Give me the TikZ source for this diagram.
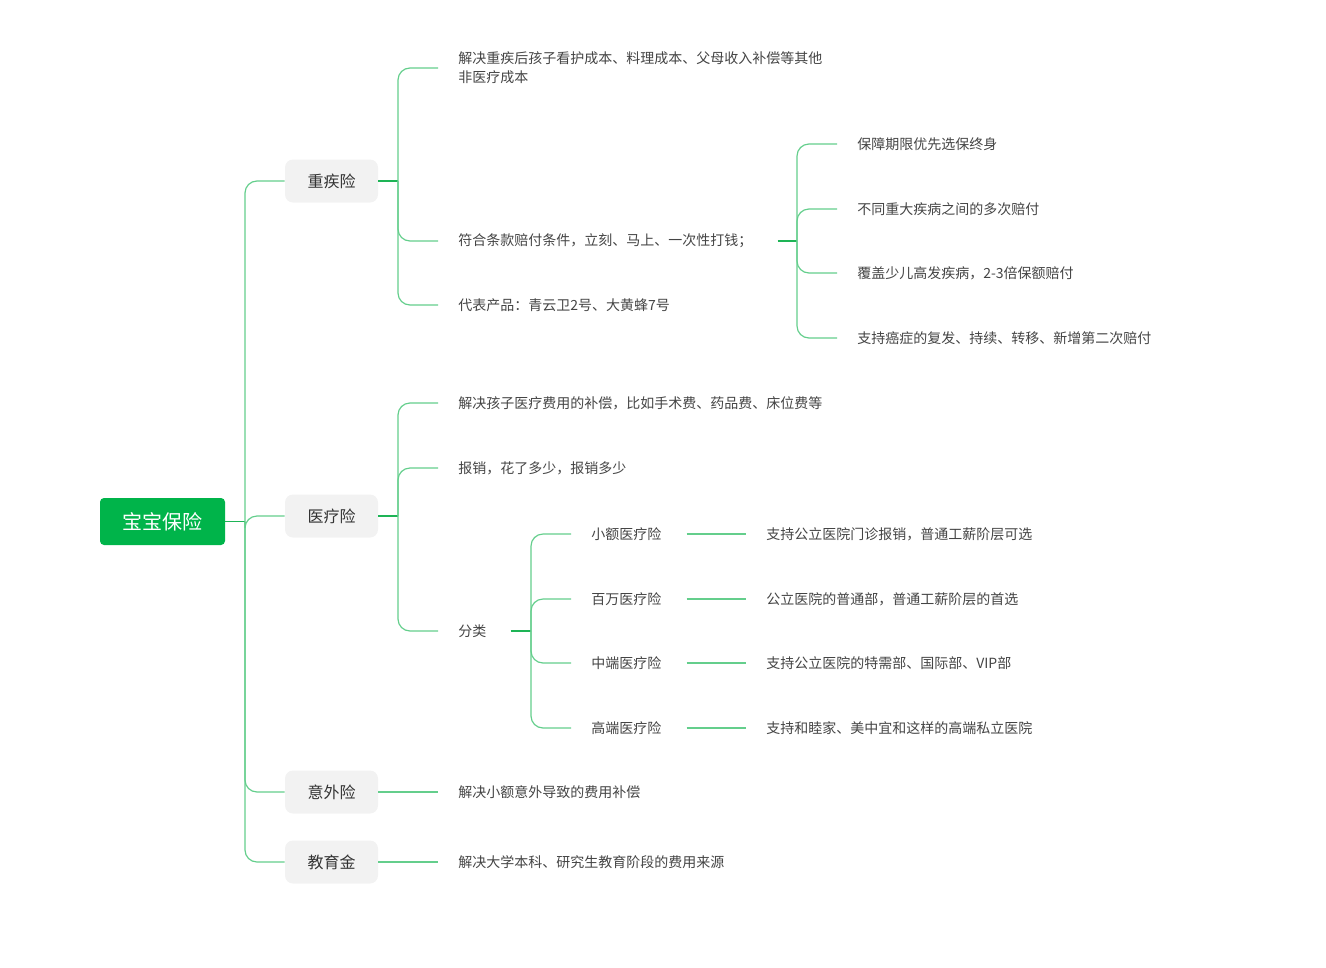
\documentclass[tikz,border=0pt]{standalone}
\usepackage{fontspec}
\setmainfont{Noto Sans CJK SC}
\definecolor{rootgreen}{RGB}{0,180,74}
\definecolor{boxgray}{RGB}{242,242,242}
\definecolor{darktext}{RGB}{51,51,51}
\definecolor{leaftext}{RGB}{68,68,68}
\definecolor{stubgreen}{RGB}{30,180,86}
\definecolor{branchgreen}{RGB}{100,206,140}
\tikzset{
  rootbox/.style={fill=rootgreen, text=white, rounded corners=3pt, minimum width=93.75pt, minimum height=35.25pt, font=\fontsize{15pt}{18pt}\selectfont, inner sep=0pt},
  topicbox/.style={fill=boxgray, text=darktext, rounded corners=6pt, minimum width=69.75pt, minimum height=32.25pt, font=\fontsize{12pt}{14pt}\selectfont, inner sep=0pt},
  leaf/.style={anchor=west, inner sep=0pt, text=leaftext, font=\fontsize{10.5pt}{14.25pt}\selectfont, align=left},
  stub/.style={draw=stubgreen, line width=0.9pt},
  branch/.style={draw=branchgreen, line width=0.9pt, rounded corners=9pt},
}
\begin{document}
\begin{tikzpicture}[x=0.75pt, y=-0.75pt]
\useasboundingbox (0,0) rectangle (1326,967);

% root
\node[rootbox] (root) at (162.5,521.5) {宝宝保险};
\coordinate (j0) at (245,521.5);

% level 1
\node[topicbox] (zj) at (331.5,181) {重疾险};
\node[topicbox] (yl) at (331.5,516) {医疗险};
\node[topicbox] (yw) at (331.5,792) {意外险};
\node[topicbox] (jy) at (331.5,862) {教育金};

\draw[stub] (root.east) -- (j0);
\foreach \n in {zj,yl,yw,jy} \draw[branch] (j0) |- (\n.west);

% 重疾险 children
\coordinate (j1) at (398,181);
\node[leaf] (z1) at (458,68) {解决重疾后孩子看护成本、料理成本、父母收入补偿等其他\\非医疗成本};
\node[leaf] (z2) at (458,241) {符合条款赔付条件，立刻、马上、一次性打钱；};
\node[leaf] (z3) at (458,305) {代表产品：青云卫2号、大黄蜂7号};
\draw[stub] (zj.east) -- (j1);
\draw[branch] (j1) |- ([xshift=-15pt]z1.west);
\draw[branch] (j1) |- ([xshift=-15pt]z2.west);
\draw[branch] (j1) |- ([xshift=-15pt]z3.west);

% 符合条款 children
\coordinate (j2) at (797,241);
\node[leaf] (f1) at (857,144) {保障期限优先选保终身};
\node[leaf] (f2) at (857,209) {不同重大疾病之间的多次赔付};
\node[leaf] (f3) at (857,273) {覆盖少儿高发疾病，2-3倍保额赔付};
\node[leaf] (f4) at (857,338) {支持癌症的复发、持续、转移、新增第二次赔付};
\draw[stub] ([xshift=18.75pt]z2.east) -- (j2);
\foreach \n in {f1,f2,f3,f4} \draw[branch] (j2) |- ([xshift=-15pt]\n.west);

% 医疗险 children
\coordinate (j3) at (398,516);
\node[leaf] (y1) at (458,403) {解决孩子医疗费用的补偿，比如手术费、药品费、床位费等};
\node[leaf] (y2) at (458,468) {报销，花了多少，报销多少};
\node[leaf] (y3) at (458,631) {分类};
\draw[stub] (yl.east) -- (j3);
\foreach \n in {y1,y2,y3} \draw[branch] (j3) |- ([xshift=-15pt]\n.west);

% 分类 children
\coordinate (j4) at (531,631);
\draw[stub] ([xshift=18pt]y3.east) -- (j4);
\node[leaf] (c1) at (591,534) {小额医疗险};
\node[leaf] (c2) at (591,599) {百万医疗险};
\node[leaf] (c3) at (591,663) {中端医疗险};
\node[leaf] (c4) at (591,728) {高端医疗险};
\node[leaf] (d1) at (766,534) {支持公立医院门诊报销，普通工薪阶层可选};
\node[leaf] (d2) at (766,599) {公立医院的普通部，普通工薪阶层的首选};
\node[leaf] (d3) at (766,663) {支持公立医院的特需部、国际部、VIP部};
\node[leaf] (d4) at (766,728) {支持和睦家、美中宜和这样的高端私立医院};
\foreach \n in {c1,c2,c3,c4} \draw[branch] (j4) |- ([xshift=-15pt]\n.west);
\foreach \a/\b in {c1/d1,c2/d2,c3/d3,c4/d4} \draw[branch] ([xshift=18.75pt]\a.east) -- ([xshift=-15pt]\b.west);

% 意外险 / 教育金
\node[leaf] (w1) at (458,792) {解决小额意外导致的费用补偿};
\node[leaf] (e1) at (458,862) {解决大学本科、研究生教育阶段的费用来源};
\draw[branch] (yw.east) -- ([xshift=-15pt]w1.west);
\draw[branch] (jy.east) -- ([xshift=-15pt]e1.west);
\end{tikzpicture}
\end{document}
